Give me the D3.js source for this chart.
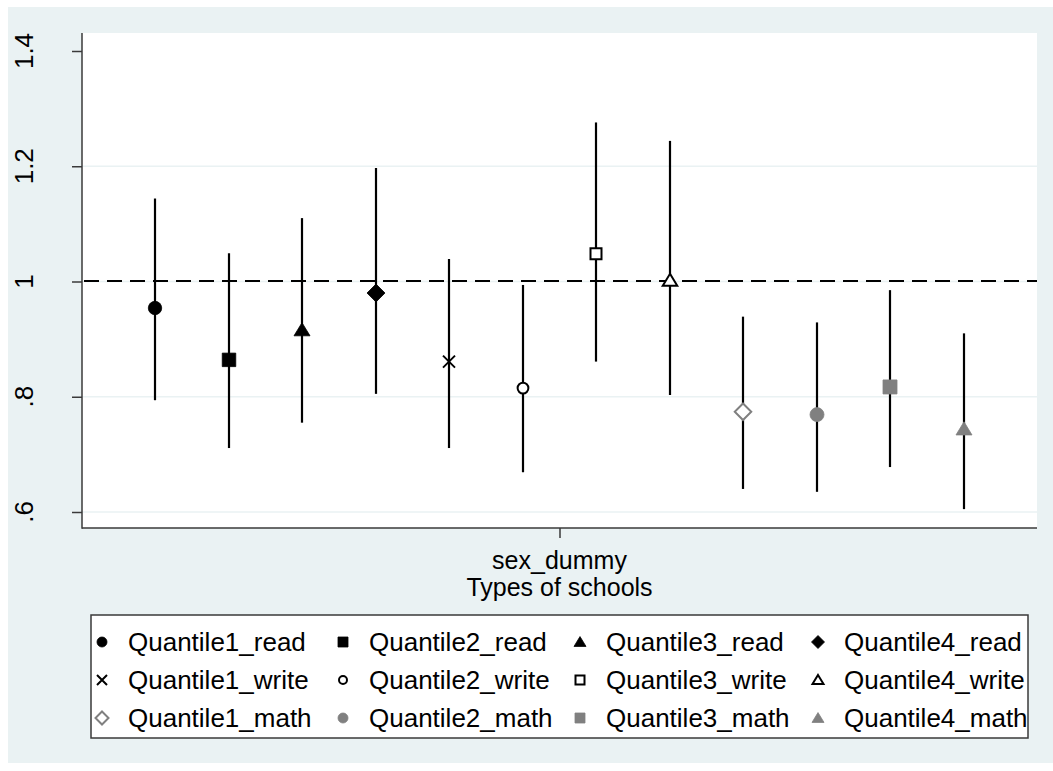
<!DOCTYPE html>
<html>
<head>
<meta charset="utf-8">
<script src="https://cdn.jsdelivr.net/npm/d3@7"></script>
<style>
  html, body { margin: 0; padding: 0; background: #ffffff; }
  svg { display: block; font-family: "Liberation Sans", Arial, sans-serif; }
</style>
</head>
<body>
<svg id="chart" width="1053" height="771"></svg>
<script>
// ---------------- DATA ----------------
const seriesNames = [
  "Quantile1_read", "Quantile2_read", "Quantile3_read", "Quantile4_read",
  "Quantile1_write", "Quantile2_write", "Quantile3_write", "Quantile4_write",
  "Quantile1_math", "Quantile2_math", "Quantile3_math", "Quantile4_math"
];
const estimates = [0.954, 0.864, 0.916, 0.980, 0.861, 0.815, 1.048, 1.002, 0.774, 0.769, 0.817, 0.744];
const lowerCI   = [0.794, 0.711, 0.755, 0.805, 0.711, 0.669, 0.861, 0.803, 0.640, 0.635, 0.678, 0.605];
const upperCI   = [1.144, 1.049, 1.110, 1.197, 1.039, 0.994, 1.276, 1.244, 0.939, 0.929, 0.985, 0.910];
const coefLabels = ["sex_dummy"];
const xAxisTitle = "Types of schools";
const yTicks = [0.6, 0.8, 1.0, 1.2, 1.4];
const yTickLabels = [".6", ".8", "1", "1.2", "1.4"];
const refValue = 1;

// ---------------- STYLES (separate from data) ----------------
const BG = "#EAF2F3";
const AXIS = "#3a3a3a";
const GRAY = "#808080";
// marker style per series index: [shape, filled, color, plotSize, legendSize]
const markerStyles = [
  ["circle", true, "#000", 6.7, 5],
  ["square", true, "#000", 13.5, 10],
  ["triangle", true, "#000", 16, 12],
  ["diamond", true, "#000", 18, 13],
  ["x", false, "#000", 12, 10],
  ["circle", false, "#000", 5.4, 4],
  ["square", false, "#000", 11, 9],
  ["triangle", false, "#000", 14.5, 11],
  ["diamond", false, GRAY, 16.5, 13],
  ["circle", true, GRAY, 7, 5],
  ["square", true, GRAY, 14, 10],
  ["triangle", true, GRAY, 16, 12]
];

function markerPath(shape, s) {
  const p = d3.path();
  if (shape === "circle") {
    p.arc(0, 0, s, 0, 2 * Math.PI); p.closePath();
  } else if (shape === "square") {
    p.rect(-s / 2, -s / 2, s, s);
  } else if (shape === "triangle") {
    const h = s * 0.82;
    p.moveTo(0, -h * 0.55); p.lineTo(s / 2, h * 0.45); p.lineTo(-s / 2, h * 0.45); p.closePath();
  } else if (shape === "diamond") {
    const r = s / 2;
    p.moveTo(0, -r); p.lineTo(r, 0); p.lineTo(0, r); p.lineTo(-r, 0); p.closePath();
  } else if (shape === "x") {
    const r = s / 2;
    p.moveTo(-r, -r); p.lineTo(r, r); p.moveTo(r, -r); p.lineTo(-r, r);
  }
  return p.toString();
}

function drawMarker(g, i, size) {
  const [shape, filled, color] = markerStyles[i];
  g.append("path")
    .attr("d", markerPath(shape, size))
    .attr("fill", filled ? color : (shape === "x" ? "none" : "#fff"))
    .attr("stroke", color)
    .attr("stroke-width", filled ? 0.8 : 2)
    .attr("stroke-linejoin", "miter");
}

// ---------------- LAYOUT ----------------
const svg = d3.select("#chart");
const W = 1053, H = 771;
const plot = { left: 82, right: 1037, top: 33, bottom: 528 };

svg.append("rect").attr("x", 8).attr("y", 7).attr("width", W - 8).attr("height", 756).attr("fill", BG);
svg.append("rect").attr("x", plot.left).attr("y", plot.top)
  .attr("width", plot.right - plot.left).attr("height", plot.bottom - plot.top).attr("fill", "#fff");

const y = d3.scaleLinear().domain([0.6, 1.4]).range([512, 51]);
const x = d3.scaleLinear().domain([0.5, 1.5]).range([plot.left, plot.right]);
const nS = seriesNames.length;
const step = 0.077;
const xPos = i => Math.round(x(1 + (i - (nS - 1) / 2) * step));

// gridlines (not at the extreme top tick)
svg.append("g").selectAll("line").data(yTicks.filter(t => t < 1.3)).join("line")
  .attr("x1", plot.left).attr("x2", plot.right)
  .attr("y1", d => y(d)).attr("y2", d => y(d))
  .attr("stroke", BG).attr("stroke-width", 1.5);

// reference line
svg.append("line")
  .attr("x1", plot.left + 2).attr("x2", plot.right)
  .attr("y1", Math.round(y(refValue))).attr("y2", Math.round(y(refValue)))
  .attr("stroke", "#000").attr("stroke-width", 2.2)
  .attr("stroke-dasharray", "15,8");

// CI lines
svg.append("g").selectAll("line").data(d3.range(nS)).join("line")
  .attr("x1", i => xPos(i)).attr("x2", i => xPos(i))
  .attr("y1", i => y(lowerCI[i])).attr("y2", i => y(upperCI[i]))
  .attr("stroke", "#000").attr("stroke-width", 2.2);

// markers
d3.range(nS).forEach(i => {
  const g = svg.append("g").attr("transform", `translate(${xPos(i)},${y(estimates[i])})`);
  drawMarker(g, i, markerStyles[i][3]);
});

// y axis
const yAxis = d3.axisLeft(y).tickValues(yTicks).tickFormat((d, i) => yTickLabels[i]).tickSize(10).tickPadding(0);
const gy = svg.append("g").attr("transform", `translate(${plot.left},0)`).call(yAxis);
gy.select(".domain").remove();
gy.selectAll(".tick line").attr("stroke", AXIS).attr("stroke-width", 1.5);
gy.selectAll(".tick text").remove();
svg.append("line").attr("x1", plot.left).attr("x2", plot.left).attr("y1", plot.top).attr("y2", plot.bottom + 0.75)
  .attr("stroke", AXIS).attr("stroke-width", 1.5);
svg.append("g").selectAll("text").data(yTicks).join("text")
  .attr("transform", d => `translate(33,${y(d)}) rotate(-90)`)
  .attr("text-anchor", "middle")
  .attr("font-size", 26).attr("fill", "#000")
  .text((d, i) => yTickLabels[i]);

// x axis
const xAxis = d3.axisBottom(x).tickValues([1]).tickFormat(() => "").tickSize(10);
const gx = svg.append("g").attr("transform", `translate(0,${plot.bottom})`).call(xAxis);
gx.select(".domain").remove();
gx.selectAll(".tick line").attr("stroke", AXIS).attr("stroke-width", 1.5);
svg.append("line").attr("x1", plot.left).attr("x2", plot.right).attr("y1", plot.bottom).attr("y2", plot.bottom)
  .attr("stroke", AXIS).attr("stroke-width", 1.5);
svg.append("text").attr("x", x(1)).attr("y", 569).attr("text-anchor", "middle")
  .attr("font-size", 25).text(coefLabels[0]);
svg.append("text").attr("x", x(1)).attr("y", 596).attr("text-anchor", "middle")
  .attr("font-size", 25).text(xAxisTitle);

// legend
svg.append("rect").attr("x", 91).attr("y", 615).attr("width", 937).attr("height", 123)
  .attr("fill", "#fff").attr("stroke", AXIS).attr("stroke-width", 1.5);
const legColX = [102, 343, 580, 818];
const legRowY = [642, 680, 718];
d3.range(nS).forEach(i => {
  const col = i % 4, row = Math.floor(i / 4);
  const g = svg.append("g").attr("transform", `translate(${legColX[col]},${legRowY[row]})`);
  drawMarker(g, i, markerStyles[i][4]);
  svg.append("text").attr("x", legColX[col] + 26).attr("y", legRowY[row] + 9)
    .attr("font-size", 26).attr("fill", "#000").text(seriesNames[i]);
});
</script>
</body>
</html>
